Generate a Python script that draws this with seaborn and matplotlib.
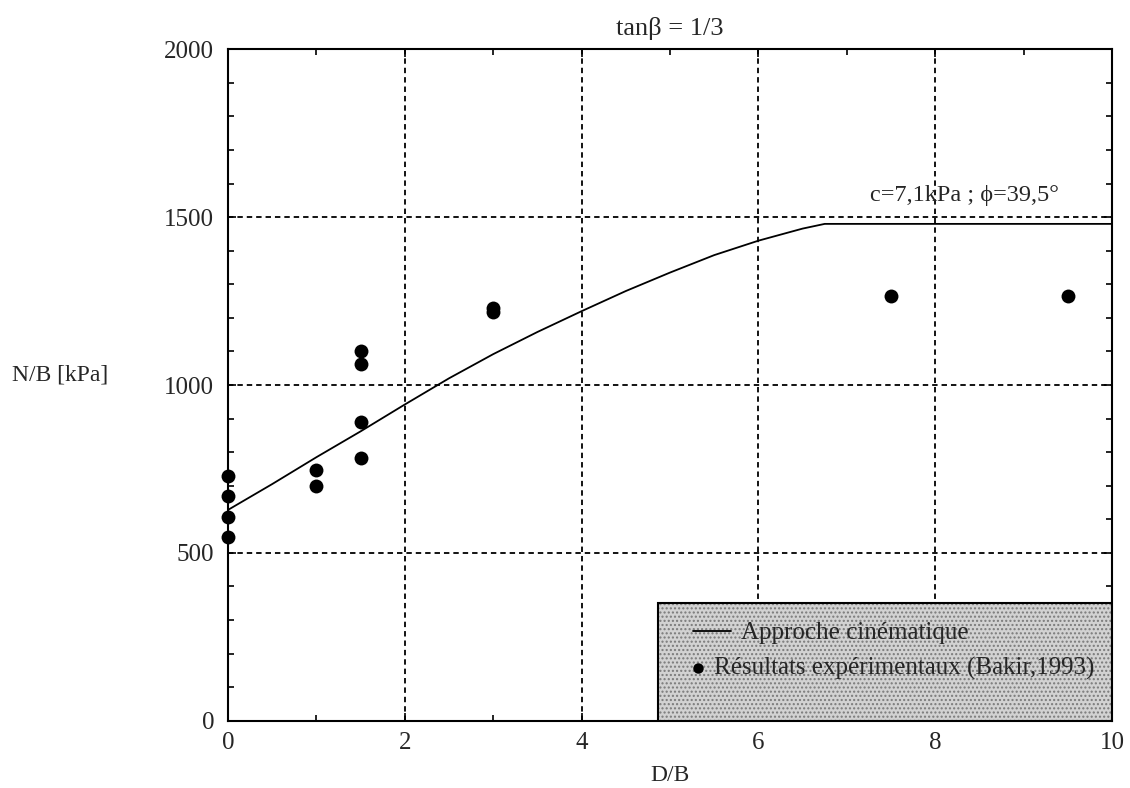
import numpy as np
import pandas as pd
import matplotlib
matplotlib.use('Agg')
import matplotlib.pyplot as plt
from matplotlib.patches import Rectangle
from matplotlib.ticker import MultipleLocator
import seaborn as sns

sns.set_style('ticks')
plt.rcParams['font.family'] = ['Liberation Serif', 'DejaVu Serif']

# --- Datos ---
# Approche cinématique (courbe)
courbe_x = [0, 0.5, 1, 1.5, 2, 2.5, 3, 3.5, 4, 4.5, 5, 5.5, 6, 6.5, 6.75, 10]
courbe_y = [628, 705, 785, 862, 942, 1020, 1092, 1158, 1220, 1280, 1335, 1387, 1430, 1466, 1480, 1480]

# Résultats expérimentaux (Bakir, 1993)
exp_x = [0, 0, 0, 0, 1, 1, 1.5, 1.5, 1.5, 1.5, 3, 3, 7.5, 9.5]
exp_y = [730, 668, 608, 548, 747, 699, 1102, 1063, 891, 783, 1230, 1218, 1265, 1265]

titre = 'tan\u03b2 = 1/3'
note = 'c=7,1kPa ; \u03d5=39,5\u00b0'
lab_courbe = 'Approche cinématique'
lab_exp = 'Résultats expérimentaux (Bakir,1993)'

df_courbe = pd.DataFrame({'D/B': courbe_x, 'N/B': courbe_y})
df_exp = pd.DataFrame({'D/B': exp_x, 'N/B': exp_y})

fig = plt.figure(figsize=(11.3, 7.88), dpi=100)
ax = fig.add_axes([0.2018, 0.0854, 0.9841 - 0.2018, 0.9374 - 0.0854])

sns.lineplot(data=df_courbe, x='D/B', y='N/B', ax=ax, color='black', lw=1.3,
             label=lab_courbe, sort=False, zorder=4)
sns.scatterplot(data=df_exp, x='D/B', y='N/B', ax=ax, color='black', s=100,
                edgecolor='black', linewidth=0, label=lab_exp, zorder=5, clip_on=False)

ax.set_xlim(0, 10)
ax.set_ylim(0, 2000)
ax.xaxis.set_major_locator(MultipleLocator(2))
ax.xaxis.set_minor_locator(MultipleLocator(1))
ax.yaxis.set_major_locator(MultipleLocator(500))
ax.yaxis.set_minor_locator(MultipleLocator(100))
ax.tick_params(which='both', direction='in', top=True, right=True, labelsize=18,
               color='black', width=1.2)
ax.tick_params(which='major', length=6)
ax.tick_params(which='minor', length=4)
ax.tick_params(axis='x', pad=8)
ax.tick_params(axis='y', pad=10)
ax.grid(True, which='major', color='black', linestyle=(0, (3, 2.2)), lw=1.3)
for s in ax.spines.values():
    s.set_linewidth(1.5)
    s.set_color('black')

ax.set_xlabel('D/B', fontsize=17, labelpad=8)
ax.set_ylabel('')
fig.text(12 / 1130, 1 - 375 / 788, 'N/B [kPa]', fontsize=17, ha='left', va='center')
ax.set_title(titre, fontsize=19, pad=10)

ax.text(8.33, 1566, note, fontsize=17.5, ha='center', va='center')

# Cadre de la légende (fond pointillé gris)
x0 = (658 - 228) / 884
h = (720.7 - 603) / 671.4
fond = Rectangle((x0, 0), 1 - x0, h, transform=ax.transAxes, facecolor='#d2d2d2',
                 hatch='....', edgecolor='#7a7a7a', lw=0, zorder=6)
ax.add_patch(fond)
bord = Rectangle((x0, 0), 1 - x0, h, transform=ax.transAxes, facecolor='none',
                 edgecolor='black', lw=1.5, zorder=7)
ax.add_patch(bord)

handles, labels = ax.get_legend_handles_labels()
ax.get_legend().remove() if ax.get_legend() else None

leg1 = ax.legend([handles[0]], [labels[0]], loc='center left',
                 bbox_to_anchor=((693 - 228) / 884, (720.7 - 633) / 671.4),
                 frameon=False, fontsize=18, handlelength=1.5, handletextpad=0.4,
                 borderpad=0, borderaxespad=0)
leg1.set_zorder(8)
ax.add_artist(leg1)
leg2 = ax.legend([handles[1]], [labels[1]], loc='center left',
                 bbox_to_anchor=((690 - 228) / 884, (720.7 - 668) / 671.4),
                 frameon=False, fontsize=18, handlelength=0.6, handletextpad=0.35,
                 borderpad=0, borderaxespad=0, markerscale=0.75)
leg2.set_zorder(8)

plt.savefig('out.png', dpi=100)
plt.close()
